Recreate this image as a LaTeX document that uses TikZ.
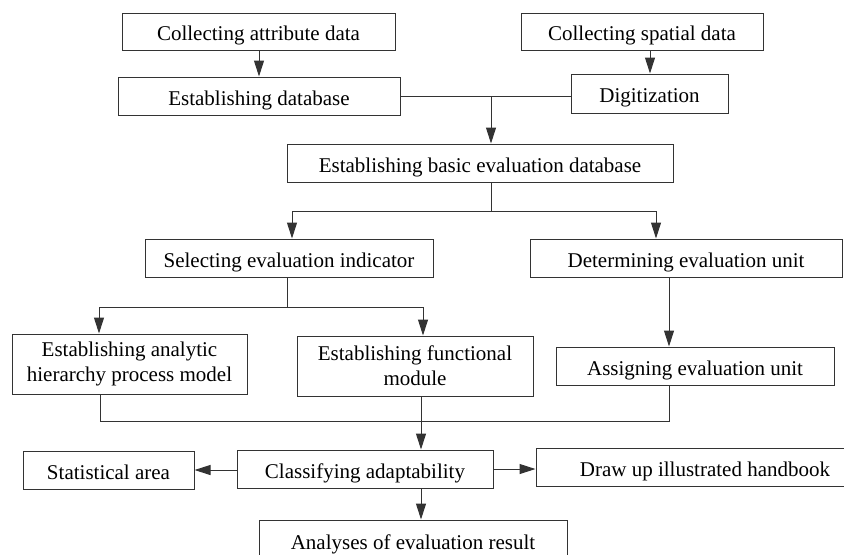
\documentclass[tikz,border=0pt]{standalone}
\usepackage{fontspec}
\setmainfont{Liberation Serif}
\usetikzlibrary{arrows.meta}
\tikzstyle{box} = [draw=black!80, rectangle, line width=0.5pt, minimum height=19pt, inner sep=1pt, align=center, font=\fontsize{10.5}{12.5}\selectfont]
\tikzstyle{block} = [box, text height=10pt, text depth=1pt]
\tikzstyle{tall} = [box, minimum height=30pt]
\tikzstyle{line} = [draw=black!80, line width=0.5pt]

\begin{document}
\begin{tikzpicture}[x=0.5pt,y=-0.5pt,>={Triangle[length=8pt,width=5pt]}]
\useasboundingbox (0,0) rectangle (844,554);
\node [block, minimum width=136.5pt, minimum height=18.5pt] (attr) at (258.5,31.5) {Collecting attribute data};
\node [block, minimum width=121pt, minimum height=18.5pt] (spatial) at (642,31.5) {Collecting spatial data};
\node [block, minimum width=141pt] (db) at (259,96) {Establishing database};
\node [block, minimum width=78.5pt, minimum height=19.5pt] (digit) at (649.5,93.5) {Digitization};
\node [block, minimum width=193pt] (basic) at (480,163) {Establishing basic evaluation database};
\node [block, minimum width=144pt] (select) at (289,258) {Selecting evaluation indicator};
\node [block, minimum width=156pt] (determ) at (686,258) {Determining evaluation unit};
\node [tall, minimum width=117.5pt] (ahp) at (129.5,364) {Establishing analytic\\hierarchy process model};
\node [tall, minimum width=118pt] (func) at (415,366) {Establishing functional\\module};
\node [block, minimum width=139pt] (assign) at (695,366) {Assigning evaluation unit};
\node [block, minimum width=128pt] (classify) at (365,469) {Classifying adaptability};
\node [block, minimum width=85.5pt] (stat) at (108.5,470) {Statistical area};
\node [block, minimum width=169pt] (drawup) at (705,467) {Draw up illustrated handbook};
\node [block, minimum width=154pt, minimum height=20pt] (result) at (413,540) {Analyses of evaluation result};

\coordinate (j1) at (491,96);
\coordinate (j2) at (491,211);
\coordinate (s1) at (292,211);
\coordinate (s2) at (656,211);
\coordinate (j3) at (287,307);
\coordinate (f1) at (99,307);
\coordinate (f2) at (423,307);
\coordinate (j4) at (421,421);

\draw [line, ->] (attr.south -| 259,0) -- (db.north -| 259,0);
\draw [line, ->] (spatial.south -| 650,0) -- (digit.north -| 650,0);
\draw [line] (db.east |- j1) -- (digit.west |- j1);
\draw [line, ->] (j1) -- (j1 |- basic.north);
\draw [line] (basic.south -| j2) -- (j2);
\draw [line] (s1) -- (s2);
\draw [line, ->] (s1) -- (s1 |- select.north);
\draw [line, ->] (s2) -- (s2 |- determ.north);
\draw [line] (select.south -| j3) -- (j3);
\draw [line] (f1) -- (f2);
\draw [line, ->] (f1) -- (f1 |- ahp.north);
\draw [line, ->] (f2) -- (f2 |- func.north);
\draw [line, ->] (determ.south -| 669,0) -- (assign.north -| 669,0);
\draw [line] (ahp.south -| 100,0) |- (j4) -| (assign.south -| 669,0);
\draw [line, ->] (func.south -| j4) -- (classify.north -| j4);
\draw [line, ->] (classify.west |- 0,470) -- (stat.east |- 0,470);
\draw [line, ->] (classify.east |- 0,469) -- (drawup.west |- 0,469);
\draw [line, ->] (classify.south -| j4) -- (result.north -| j4);
\end{tikzpicture}
\end{document}
